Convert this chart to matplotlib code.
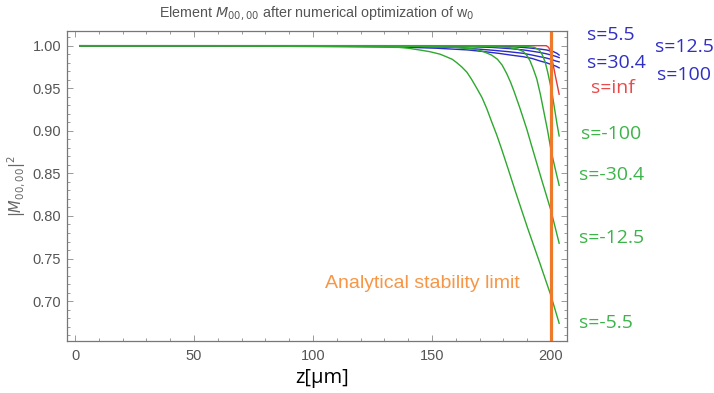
import matplotlib
matplotlib.use("Agg")
import matplotlib.pyplot as plt
from matplotlib.ticker import MultipleLocator, FormatStrFormatter

# ---- data: |M_00,00|^2 versus propagation distance z (µm) ----
z_neg55 = [2, 60, 100, 120, 136, 140, 144.7, 149, 153.4, 156, 158.5, 160.4, 162.5, 164.6,
           166.5, 168.8, 171, 173, 175, 177.2, 179.3, 182, 185, 190, 195, 200, 203.4]
m_neg55 = [1.0, 1.0, 0.999, 0.9985, 0.998, 0.997, 0.995, 0.993, 0.990, 0.987, 0.984, 0.980, 0.975, 0.969,
           0.961, 0.950, 0.939, 0.926, 0.911, 0.895, 0.878, 0.855, 0.829, 0.787, 0.747, 0.706, 0.674]

z_neg125 = [2, 100, 150, 160, 168, 171.6, 175, 177.5, 179.5, 181.4, 183, 184.5, 187, 189.8,
            192.3, 196, 200, 203.4]
m_neg125 = [1.0, 1.0, 0.999, 0.998, 0.996, 0.993, 0.989, 0.984, 0.977, 0.967, 0.957, 0.946, 0.926, 0.902,
            0.878, 0.843, 0.806, 0.768]

z_neg304 = [2, 150, 175, 182, 186, 188.4, 190, 191.2, 192.5, 194, 195.5, 197, 198.5, 200, 201.7, 203.4]
m_neg304 = [1.0, 1.0, 0.999, 0.998, 0.996, 0.993, 0.988, 0.982, 0.973, 0.961, 0.943, 0.922, 0.901, 0.877,
            0.856, 0.836]

z_neg100 = [2, 180, 190, 193, 195, 196.2, 197.5, 198.5, 199.5, 200.5, 201.7, 202.5, 203.4]
m_neg100 = [1.0, 1.0, 0.999, 0.998, 0.995, 0.990, 0.981, 0.970, 0.957, 0.943, 0.922, 0.908, 0.894]

z_pos_a = [2, 100, 130, 152, 165, 172, 178, 183, 188.4, 192, 195.4, 198, 200, 202, 203.4]
m_pos_a = [1.0, 0.9995, 0.999, 0.997, 0.995, 0.993, 0.991, 0.989, 0.987, 0.985, 0.982, 0.980, 0.978, 0.976, 0.974]

z_pos_b = [2, 130, 160, 174, 182, 188.4, 192, 195.4, 198, 200, 202, 203.4]
m_pos_b = [1.0, 1.0, 0.998, 0.995, 0.993, 0.991, 0.989, 0.987, 0.9855, 0.984, 0.982, 0.981]

z_pos_c = [2, 150, 175, 183, 188.4, 192, 195.4, 198, 200, 202, 203.4]
m_pos_c = [1.0, 1.0, 0.998, 0.9965, 0.995, 0.9935, 0.992, 0.9905, 0.989, 0.9875, 0.986]

z_pos_d = [2, 170, 182, 188, 192, 195.4, 198, 201, 202.5, 203.4]
m_pos_d = [1.0, 1.0, 0.999, 0.998, 0.997, 0.996, 0.995, 0.993, 0.991, 0.989]

z_inf = [2, 198, 199, 199.6, 200.2, 201, 202, 203.4]
m_inf = [1.0, 1.0, 0.998, 0.994, 0.987, 0.976, 0.962, 0.943]

stability_limit = 200

blue_labels = [("s=5.5", 587, 35.5), ("s=30.4", 587, 62.5),
               ("s=12.5", 655, 47), ("s=100", 657, 75)]
red_labels = [("s=inf", 591, 88)]
green_labels = [("s=-100", 581, 134), ("s=-30.4", 579, 175),
                ("s=-12.5", 579, 238), ("s=-5.5", 579, 323)]

C_GREEN = "#2ea82e"
C_BLUE = "#2a2acb"
C_RED = "#e23b3b"
C_ORANGE = "#ec7a2a"
T_BLUE = "#2f2fc4"
T_RED = "#ea4a4a"
T_GREEN = "#3db44a"
T_ORANGE = "#f79646"

W, H = 714, 393
fig = plt.figure(figsize=(W / 100, H / 100), dpi=100)
ax = fig.add_axes([66.7 / W, 1 - 340.7 / H, (567 - 66.7) / W, (340.7 - 30.7) / H])

for z, m in [(z_pos_a, m_pos_a), (z_pos_b, m_pos_b), (z_pos_c, m_pos_c), (z_pos_d, m_pos_d)]:
    ax.plot(z, m, color=C_BLUE, lw=1.0, solid_joinstyle="round")
ax.plot(z_inf, m_inf, color=C_RED, lw=1.0, solid_joinstyle="round")
for z, m in [(z_neg55, m_neg55), (z_neg125, m_neg125), (z_neg304, m_neg304), (z_neg100, m_neg100)]:
    ax.plot(z, m, color=C_GREEN, lw=1.0, solid_joinstyle="round")

ax.plot([stability_limit, stability_limit], [0.6, 1.016], color=C_ORANGE, lw=2.3)

ax.set_xlim(-3.5, 206.7)
ax.set_ylim(0.6535, 1.0176)

ax.xaxis.set_major_locator(MultipleLocator(50))
ax.xaxis.set_minor_locator(MultipleLocator(10))
ax.yaxis.set_major_locator(MultipleLocator(0.05))
ax.yaxis.set_minor_locator(MultipleLocator(0.01))
ax.yaxis.set_major_formatter(FormatStrFormatter("%.2f"))
ax.tick_params(which="both", direction="in", top=True, right=True,
               color="#999999", width=0.7)
ax.tick_params(which="major", length=4)
ax.tick_params(which="minor", length=2.2)
ax.tick_params(axis="x", which="major", pad=6)
ax.tick_params(axis="y", which="major", pad=4)
for lab in ax.get_xticklabels() + ax.get_yticklabels():
    lab.set_fontfamily("Liberation Sans")
    lab.set_fontsize(10.5)
    lab.set_color("#555555")
for sp in ax.spines.values():
    sp.set_color("#777777")
    sp.set_linewidth(0.9)

ax.set_title(r"Element $M_{00,00}$ after numerical optimization of w$_0$",
             fontsize=10.3, color="#555555", family="Liberation Sans", pad=10)
ax.set_ylabel(r"$|M_{00,00}|^2$", fontsize=10.5, color="#666666", labelpad=3)
fig.text(322 / W, 1 - 378 / H, "z[μm]", fontsize=14.5, family="Open Sans",
         ha="center", va="center", color="black")

fig.text(422 / W, 1 - 283 / H, "Analytical stability limit",
         fontsize=14, family="Liberation Sans", color=T_ORANGE, ha="center", va="center")

for labels, col in [(blue_labels, T_BLUE), (red_labels, T_RED), (green_labels, T_GREEN)]:
    for txt, x, y in labels:
        fig.text(x / W, 1 - y / H, txt, fontsize=14, family="Open Sans",
                 color=col, ha="left", va="center")

fig.savefig("out.png", dpi=100)
